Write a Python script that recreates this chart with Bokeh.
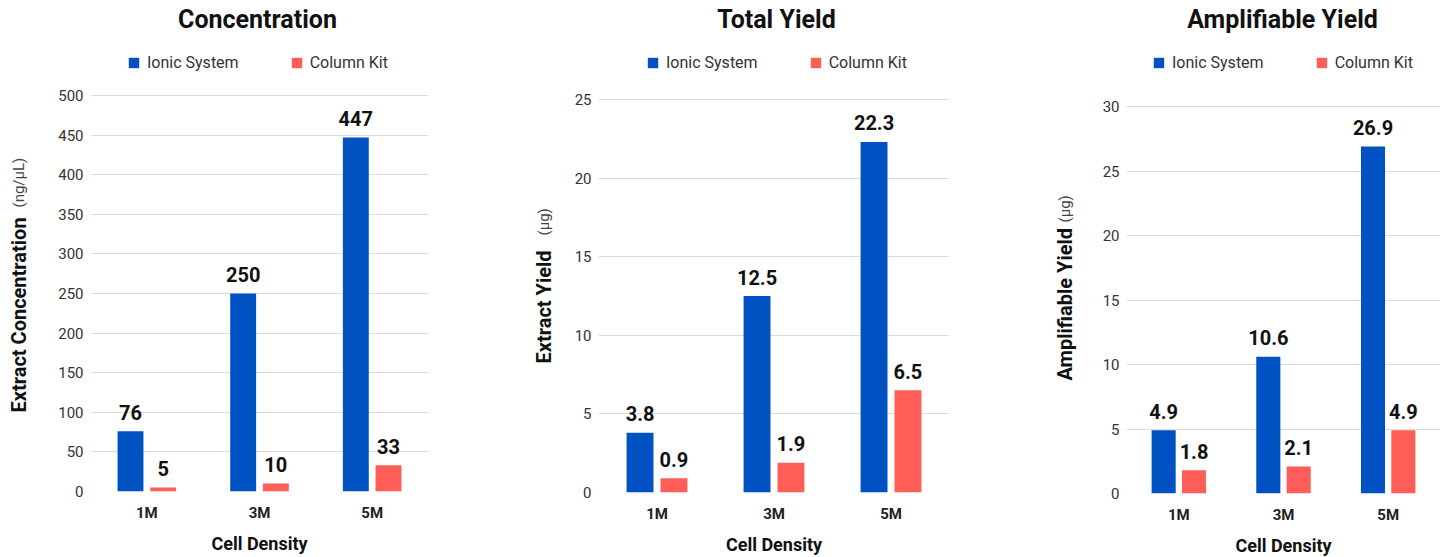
import math
from bokeh.plotting import figure
from bokeh.layouts import row
from bokeh.models import ColumnDataSource, FactorRange, Label, Legend, LegendItem, Range1d
from bokeh.transform import dodge
from bokeh.core.properties import value
from bokeh.embed import file_html
from bokeh.resources import INLINE

categories = ["1M", "3M", "5M"]
series_names = ["Ionic System", "Column Kit"]

conc_ionic = [76, 250, 447]
conc_column = [5, 10, 33]
conc_ticks = [0, 50, 100, 150, 200, 250, 300, 350, 400, 450, 500]

total_ionic = [3.8, 12.5, 22.3]
total_column = [0.9, 1.9, 6.5]
total_ticks = [0, 5, 10, 15, 20, 25]

amp_ionic = [4.9, 10.6, 26.9]
amp_column = [1.8, 2.1, 4.9]
amp_ticks = [0, 5, 10, 15, 20, 25, 30]

titles = ["Concentration", "Total Yield", "Amplifiable Yield"]
ylabels_bold = ["Extract Concentration", "Extract Yield", "Amplifiable Yield"]
ylabels_unit = ["(ng/\u00b5L)", "(\u00b5g)", "(\u00b5g)"]
xlabel = "Cell Density"

BLUE = "#0051C1"
RED = "#FF5D57"
FONT = "Roboto"
FIG_H = 557


def fmt(v):
    return str(int(v)) if float(v).is_integer() else f"{v:.1f}"


def ylabel_fig(width, x_c, y_bold, y_unit, bold_txt, unit_txt):
    f = figure(x_range=Range1d(0, width), y_range=Range1d(0, FIG_H),
               frame_width=width, frame_height=FIG_H,
               min_border=0, min_border_left=0, min_border_right=0,
               min_border_top=0, min_border_bottom=0,
               output_backend="svg", toolbar_location=None)
    f.axis.visible = False
    f.grid.visible = False
    f.outline_line_color = None
    f.add_layout(Label(x=x_c, y=y_bold, x_units="screen", y_units="screen", angle=math.pi / 2,
                       text=bold_txt, text_align="left", text_baseline="middle",
                       text_font=FONT, text_font_style="bold", text_font_size="20px",
                       text_color="#111111"))
    f.add_layout(Label(x=x_c, y=y_unit, x_units="screen", y_units="screen", angle=math.pi / 2,
                       text=unit_txt, text_align="left", text_baseline="middle",
                       text_font=FONT, text_font_style="normal", text_font_size="15px",
                       text_color="#444444"))
    return f


def make_chart(title, ionic, column, ticks, geom):
    (fw, fh, data_h, bl, br, bb, title_x, leg_x, leg_y, spacing) = geom
    src = ColumnDataSource(dict(
        cat=categories, ionic=ionic, column=column,
        ionic_lbl=[fmt(v) for v in ionic], column_lbl=[fmt(v) for v in column],
    ))
    y_end = ticks[-1] * fh / data_h  # frame extends above the data area for title + legend
    p = figure(x_range=FactorRange(factors=categories), y_range=Range1d(ticks[0], y_end),
               frame_width=fw, frame_height=fh, min_border_left=bl, min_border_right=br,
               min_border_top=0, min_border_bottom=bb,
               output_backend="svg", toolbar_location=None)
    p.outline_line_color = None
    p.background_fill_color = "white"
    p.border_fill_color = "white"
    p.xgrid.grid_line_color = None
    p.ygrid.grid_line_color = "#dcdcdc"
    p.ygrid.grid_line_width = 1
    p.yaxis.ticker = ticks
    for ax in (p.xaxis[0], p.yaxis[0]):
        ax.axis_line_color = None
        ax.major_tick_line_color = None
        ax.minor_tick_line_color = None
        ax.major_tick_in = 0
        ax.major_tick_out = 0
    p.yaxis.major_label_standoff = 7
    p.yaxis.major_label_text_font = FONT
    p.yaxis.major_label_text_font_size = "15px"
    p.yaxis.major_label_text_color = "#333333"
    p.xaxis.major_label_standoff = 12
    p.xaxis.major_label_text_font = FONT
    p.xaxis.major_label_text_font_style = "bold"
    p.xaxis.major_label_text_font_size = "15px"
    p.xaxis.major_label_text_color = "#222222"
    p.xaxis.axis_label = xlabel
    p.xaxis.axis_label_standoff = 8
    p.xaxis.axis_label_text_font = FONT
    p.xaxis.axis_label_text_font_style = "bold"
    p.xaxis.axis_label_text_font_size = "18px"
    p.xaxis.axis_label_text_color = "#111111"

    r1 = p.vbar(x=dodge("cat", -0.145, range=p.x_range), top="ionic", width=0.23,
                source=src, fill_color=BLUE, line_color=None)
    r2 = p.vbar(x=dodge("cat", 0.145, range=p.x_range), top="column", width=0.23,
                source=src, fill_color=RED, line_color=None)
    for col, lbl, off in (("ionic", "ionic_lbl", -0.145), ("column", "column_lbl", 0.145)):
        p.text(x=dodge("cat", off, range=p.x_range), y=col, text=lbl, source=src,
               text_align="center", text_baseline="alphabetic", y_offset=-19,
               text_font=value(FONT), text_font_style="bold", text_font_size="20px",
               text_color="#111111")

    p.add_layout(Label(x=title_x, y=fh - 19, x_units="screen", y_units="screen",
                       text=title, text_align="center", text_baseline="alphabetic",
                       text_font=FONT, text_font_style="bold", text_font_size="25px",
                       text_color="#111111"))

    legend = Legend(items=[LegendItem(label=series_names[0], renderers=[r1]),
                           LegendItem(label=series_names[1], renderers=[r2])],
                    orientation="horizontal", location=(leg_x, leg_y),
                    glyph_width=13, glyph_height=13, label_standoff=7, spacing=spacing,
                    padding=0, margin=0, border_line_color=None, background_fill_alpha=0,
                    label_text_font=FONT, label_text_font_size="16px", label_text_color="#333333",
                    label_height=20)
    p.add_layout(legend, "center")
    return p


# ylabel figures: (width, x_center, y_bold_start, y_unit_start) in pixels from the figure's bottom-left
yl1 = ylabel_fig(48, 18, 145, 350, ylabels_bold[0], ylabels_unit[0])
yl2 = ylabel_fig(60, 43, 194, 322, ylabels_bold[1], ylabels_unit[1])
yl3 = ylabel_fig(85, 64, 177, 335, ylabels_bold[2], ylabels_unit[2])

# main geometry: (frame_w, frame_h, data_h, border_l, border_r, border_b, title_x, leg_x, leg_y, spacing)
p1 = make_chart(titles[0], conc_ionic, conc_column, conc_ticks,
                (338, 491, 396, 42, 72, 66, 167, 37, 419, 51))
p2 = make_chart(titles[1], total_ionic, total_column, total_ticks,
                (351, 492, 393, 38, 51, 65, 178, 48, 420, 51))
p3 = make_chart(titles[2], amp_ionic, amp_column, amp_ticks,
                (314, 493, 387, 41, 2, 64, 156, 26, 421, 51))

layout = row(yl1, p1, yl2, p2, yl3, p3)
open("out.html", "w").write(file_html(layout, INLINE))
